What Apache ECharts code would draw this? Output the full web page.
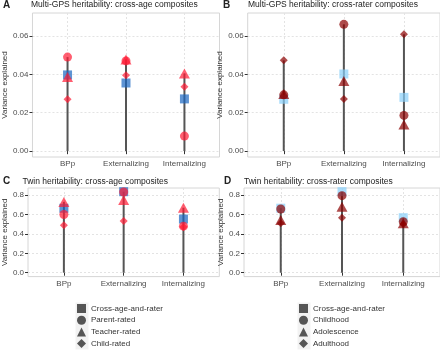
<!DOCTYPE html>
<html>
<head>
<meta charset="utf-8">
<script src="https://cdn.jsdelivr.net/npm/echarts@6/dist/echarts.min.js"></script>
<style>
html, body { margin: 0; padding: 0; background: #fff; }
#chart { width: 440px; height: 351px; }
</style>
</head>
<body>
<div id="chart"></div>
<script>
var myChart = echarts.init(document.getElementById('chart'));

var categories = ['BPp', 'Externalizing', 'Internalizing'];
var raterNames = ['Cross-age-and-rater', 'Parent-rated', 'Teacher-rated', 'Child-rated'];
var ageNames = ['Cross-age-and-rater', 'Childhood', 'Adolescence', 'Adulthood'];
var shapes = ['rect', 'circle', 'triangle', 'diamond'];
var shapeSizes = [9, 9, [11, 10], 8];

var smallTicks = [0, 0.02, 0.04, 0.06];
var bigTicks = [0, 0.2, 0.4, 0.6, 0.8];

// order of rows: square, circle, triangle, diamond
// A: multi-GPS, cross-age composites
var gpsAgeValues = [
	[0.0397, 0.0355, 0.0272],
	[0.049, 0.047, 0.0078],
	[0.0386, 0.0478, 0.0405],
	[0.027, 0.0395, 0.0336]
];
// B: multi-GPS, cross-rater composites
var gpsRaterValues = [
	[0.027, 0.0402, 0.028],
	[0.0293, 0.0661, 0.0186],
	[0.0298, 0.0365, 0.0139],
	[0.0473, 0.0271, 0.0609]
];
// C: twin, cross-age composites
var twinAgeValues = [
	[0.664, 0.835, 0.553],
	[0.60, 0.832, 0.48],
	[0.73, 0.75, 0.67],
	[0.49, 0.533, 0.47]
];
// D: twin, cross-rater composites
var twinRaterValues = [
	[0.665, 0.835, 0.567],
	[0.657, 0.794, 0.526],
	[0.543, 0.68, 0.51],
	[0.51, 0.567, 0.50]
];

var grids = [
	{ left: 25.5, top: 13, width: 194, height: 144 },
	{ left: 247.7, top: 13, width: 194.5, height: 144 },
	{ left: 22, top: 188, width: 197.3, height: 88.6 },
	{ left: 244, top: 188, width: 197.8, height: 88.6 }
];

function xAx(gi) {
	return {
		type: 'value', gridIndex: gi, min: 0.4, max: 3.6,
		axisLine: { show: false },
		axisTick: { show: true, length: 3, customValues: [1, 2, 3], lineStyle: { color: '#333' } },
		axisLabel: {
			customValues: [1, 2, 3], fontSize: 8, color: '#4d4d4d', margin: 3,
			fontFamily: 'Liberation Sans',
			formatter: function(v) { return categories[Math.round(v) - 1]; }
		},
		splitLine: { show: true, lineStyle: { color: '#e3e3e3', type: [2, 2] } }
	};
}

function yAx(gi, lo, hi, ticks, digits, gap) {
	return {
		type: 'value', gridIndex: gi, min: lo, max: hi,
		name: 'Variance explained', nameLocation: 'middle', nameRotate: 90, nameGap: gap,
		nameTextStyle: { fontSize: 8, color: '#333', fontFamily: 'Liberation Sans' },
		axisLine: { show: false },
		axisTick: { show: true, length: 3, customValues: ticks, lineStyle: { color: '#333' } },
		axisLabel: {
			customValues: ticks, fontSize: 8, color: '#4d4d4d', margin: 4,
			fontFamily: 'Liberation Sans',
			formatter: function(v) { return v.toFixed(digits); }
		},
		splitLine: { show: true, lineStyle: { color: '#e3e3e3', type: [2, 2] } }
	};
}

function panelSeries(gi, values, names, sqColor, ptColor) {
	var out = [];
	// segment from 0 up to the highest point of each category
	var tops = categories.map(function(c, i) {
		return Math.max.apply(null, values.map(function(v) { return v[i]; }));
	});
	out.push({
		type: 'bar', name: 'seg', xAxisIndex: gi, yAxisIndex: gi, barWidth: 2, silent: true,
		itemStyle: { color: '#555' },
		data: tops.map(function(t, i) { return [i + 1, t]; })
	});
	values.forEach(function(v, k) {
		out.push({
			type: 'scatter', name: names[k], xAxisIndex: gi, yAxisIndex: gi,
			symbol: shapes[k], symbolSize: shapeSizes[k],
			itemStyle: { color: k == 0 ? sqColor : ptColor, opacity: 0.7 },
			data: v.map(function(y, i) { return [i + 1, y]; })
		});
	});
	return out;
}

function legendFor(names, left) {
	return {
		orient: 'vertical', left: left, top: 304, padding: 0,
		itemWidth: 9, itemHeight: 9, itemGap: 2.7,
		textStyle: { fontSize: 8, color: '#333', fontFamily: 'Liberation Sans', lineHeight: 9 },
		selectedMode: false,
		data: names.map(function(n, k) {
			return { name: n, icon: shapes[k], itemStyle: { color: '#555', opacity: 1 } };
		})
	};
}

function titleAt(text, left, top, bold) {
	return {
		text: text, left: left, top: top, padding: 0,
		textStyle: {
			fontSize: bold ? 10 : 8.5, fontWeight: bold ? 'bold' : 'normal',
			color: '#222', fontFamily: 'Liberation Sans'
		}
	};
}

var series = []
	.concat(panelSeries(0, gpsAgeValues, raterNames, '#1a66c2', '#ff1a33'))
	.concat(panelSeries(1, gpsRaterValues, ageNames, '#87cefa', '#8b0000'))
	.concat(panelSeries(2, twinAgeValues, raterNames, '#1a66c2', '#ff1a33'))
	.concat(panelSeries(3, twinRaterValues, ageNames, '#87cefa', '#8b0000'));

var option = {
	backgroundColor: '#fff',
	animation: false,
	title: [
		titleAt('A', 3, 0, true),
		titleAt('Multi-GPS heritability: cross-age composites', 31, 0, false),
		titleAt('B', 223, 0, true),
		titleAt('Multi-GPS heritability: cross-rater composites', 248, 0, false),
		titleAt('C', 3, 176, true),
		titleAt('Twin heritability: cross-age composites', 22.5, 177, false),
		titleAt('D', 224, 176, true),
		titleAt('Twin heritability: cross-rater composites', 244, 177, false)
	],
	grid: grids.map(function(g) {
		return { left: g.left, top: g.top, width: g.width, height: g.height,
			show: true, borderColor: '#d6d6d6', borderWidth: 1, backgroundColor: '#fff' };
	}),
	xAxis: [xAx(0), xAx(1), xAx(2), xAx(3)],
	yAxis: [
		yAx(0, -0.0031, 0.072, smallTicks, 2, 16.5),
		yAx(1, -0.0031, 0.072, smallTicks, 2, 18.7),
		yAx(2, -0.04, 0.873, bigTicks, 1, 13),
		yAx(3, -0.04, 0.873, bigTicks, 1, 15)
	],
	legend: [legendFor(raterNames, 77), legendFor(ageNames, 299)],
	graphic: [
		{ type: 'rect', shape: { x: 75.5, y: 302.5, width: 13, height: 47 }, style: { fill: '#f2f2f2' }, z: -1 },
		{ type: 'rect', shape: { x: 297.5, y: 302.5, width: 13, height: 47 }, style: { fill: '#f2f2f2' }, z: -1 }
	],
	series: series
};
myChart.setOption(option);
</script>
</body>
</html>
